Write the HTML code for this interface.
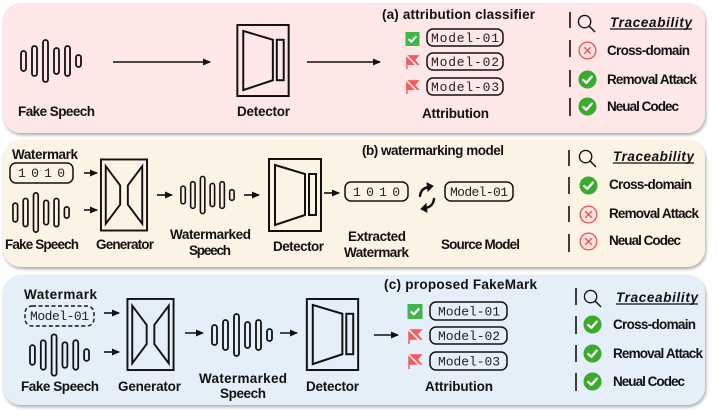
<!DOCTYPE html>
<html><head><meta charset="utf-8"><style>
html,body{margin:0;padding:0;background:#fff;}
svg{display:block;}
.t{font-family:"Liberation Sans",sans-serif;font-weight:bold;font-size:13.5px;fill:#111;}
.m{font-family:"Liberation Mono",monospace;font-size:13px;fill:#222;}
.ln{stroke:#111;stroke-width:1.6;fill:none;}
</style></head><body>
<svg width="718" height="410" viewBox="0 0 718 410" xmlns="http://www.w3.org/2000/svg">
<defs>
<filter id="sh" x="-5%" y="-10%" width="110%" height="125%"><feDropShadow dx="1" dy="2" stdDeviation="1.5" flood-color="#000" flood-opacity="0.35"/></filter>
<marker id="ar" markerWidth="8" markerHeight="8" refX="7" refY="4" orient="auto" markerUnits="userSpaceOnUse"><path d="M0,0.5 L8,4 L0,7.5 z" fill="#111"/></marker>
<symbol id="wave" viewBox="0 0 62 44">
<g fill="none" stroke="#111" stroke-width="1.8">
<rect x="1" y="12" width="5" height="20" rx="2.5"/>
<rect x="12" y="7" width="5" height="30" rx="2.5"/>
<rect x="23" y="1" width="5" height="42" rx="2.5"/>
<rect x="34" y="9" width="5" height="26" rx="2.5"/>
<rect x="45" y="7" width="5" height="30" rx="2.5"/>
<rect x="56" y="16" width="5" height="12" rx="2.5"/>
</g></symbol>
<symbol id="det" viewBox="0 0 54 74">
<g fill="none" stroke="#111" stroke-width="2">
<rect x="1" y="1" width="52" height="72"/>
<polygon points="7,7 37,16 37,57 7,67"/>
<rect x="41" y="16" width="7" height="41"/>
</g></symbol>
<symbol id="gen" viewBox="0 0 50 76">
<g fill="none" stroke="#111" stroke-width="2">
<rect x="1" y="1" width="48" height="74"/>
<polygon points="6,8 21,28 21,48 6,68"/>
<polygon points="44,8 29,28 29,48 44,68"/>
</g></symbol>
<symbol id="ok" viewBox="0 0 20 20"><circle cx="10" cy="10" r="9.5" fill="#3aab2e"/><path d="M5.5,10.5 L8.8,13.5 L14.5,7" fill="none" stroke="#fff" stroke-width="2.4" stroke-linecap="round" stroke-linejoin="round"/></symbol>
<symbol id="no" viewBox="0 0 20 20"><circle cx="10" cy="10" r="8.8" fill="#fde2e2" stroke="#e55555" stroke-width="1.4"/><path d="M7,7 L13,13 M13,7 L7,13" stroke="#e55555" stroke-width="1.5" stroke-linecap="round"/></symbol>
<symbol id="chk" viewBox="0 0 16 16"><rect width="16" height="16" fill="#3fb54a"/><path d="M3.5,8 L6.8,11 L12.5,4.8" fill="none" stroke="#fff" stroke-width="2.2"/></symbol>
<symbol id="flag" viewBox="0 0 16 16"><path d="M2,1 L2,16 M2,2 L14,2 L10,6.5 L14,11 L2,11" fill="#f25c5c" stroke="#f25c5c" stroke-width="1.5"/><path d="M1,1 L15,15" stroke="#fde7e7" stroke-width="1.8"/></symbol>
<symbol id="srch" viewBox="0 0 20 20"><circle cx="8" cy="8" r="6.5" fill="none" stroke="#111" stroke-width="1.4"/><path d="M12.7,12.7 L19,19" stroke="#111" stroke-width="1.5"/></symbol>
</defs>

<rect x="3" y="3" width="702" height="130" rx="18" fill="#fde7e7" filter="url(#sh)"/>
<rect x="3" y="140" width="702" height="127" rx="18" fill="#fbf4e5" filter="url(#sh)"/>
<rect x="3" y="275" width="702" height="130" rx="18" fill="#e5eff9" filter="url(#sh)"/>

<!-- Panel a -->
<use href="#wave" x="20" y="39" width="62" height="44"/>
<text class="t" x="18" y="116" textLength="77">Fake Speech</text>
<line class="ln" x1="113" y1="62" x2="210" y2="62" marker-end="url(#ar)"/>
<use href="#det" x="236" y="24" width="54" height="73"/>
<text class="t" x="237" y="116" textLength="53">Detector</text>
<line class="ln" x1="307" y1="62" x2="380" y2="62" marker-end="url(#ar)"/>
<text class="t" x="382" y="19" font-size="13.5" textLength="153">(a)  attribution classifier</text>
<use href="#chk" x="405" y="32" width="15" height="14"/>
<use href="#flag" x="405" y="54" width="15" height="15"/>
<use href="#flag" x="405" y="79" width="15" height="15"/>
<rect x="427" y="29" width="76" height="17" rx="6" fill="none" stroke="#111" stroke-width="1.5"/>
<rect x="427" y="53" width="76" height="17" rx="6" fill="none" stroke="#111" stroke-width="1.5"/>
<rect x="427" y="78" width="76" height="17" rx="6" fill="none" stroke="#111" stroke-width="1.5"/>
<text class="m" x="431" y="42" textLength="68">Model-01</text>
<text class="m" x="431" y="66" textLength="68">Model-02</text>
<text class="m" x="431" y="91" textLength="68">Model-03</text>
<text class="t" x="422" y="118" textLength="67">Attribution</text>

<g stroke="#111" stroke-width="1.6">
<line x1="570" y1="12" x2="570" y2="28"/><line x1="570" y1="40" x2="570" y2="57"/><line x1="570" y1="70" x2="570" y2="87"/><line x1="570" y1="98" x2="570" y2="116"/>
</g>
<use href="#srch" x="577" y="14" width="19" height="19"/>
<text class="t" x="610" y="27" font-style="italic" font-size="13.5" textLength="82">Traceability</text>
<line x1="610" y1="29" x2="692" y2="29" stroke="#111" stroke-width="1.2"/>
<use href="#no" x="578" y="41" width="19" height="19"/>
<use href="#ok" x="578" y="70" width="19" height="19"/>
<use href="#ok" x="578" y="97" width="19" height="19"/>
<text class="t" x="607" y="55" font-size="12.5" textLength="83">Cross-domain</text>
<text class="t" x="607" y="84" font-size="12.5" textLength="90">Removal Attack</text>
<text class="t" x="607" y="111" font-size="12.5" textLength="72">Neual Codec</text>

<!-- Panel b -->
<text class="t" x="12" y="159" textLength="66">Watermark</text>
<rect x="10" y="163" width="63" height="20" rx="6" fill="none" stroke="#111" stroke-width="1.5"/>
<text class="m" x="18" y="177" textLength="47">1 0 1 0</text>
<line class="ln" x1="84" y1="173" x2="97" y2="173" marker-end="url(#ar)"/>
<line class="ln" x1="84" y1="210" x2="97" y2="210" marker-end="url(#ar)"/>
<use href="#wave" x="12" y="190" width="58" height="45"/>
<text class="t" x="5" y="249" textLength="74">Fake Speech</text>
<use href="#gen" x="100" y="157" width="48" height="76"/>
<text class="t" x="96" y="249" textLength="58">Generator</text>
<line class="ln" x1="157" y1="195" x2="172" y2="195" marker-end="url(#ar)"/>
<use href="#wave" x="180" y="173" width="55" height="44"/>
<text class="t" x="170" y="239" textLength="81">Watermarked</text>
<text class="t" x="189" y="255" textLength="42">Speech</text>
<line class="ln" x1="244" y1="195" x2="259" y2="195" marker-end="url(#ar)"/>
<use href="#det" x="268" y="157" width="54" height="76"/>
<text class="t" x="273" y="251" textLength="51">Detector</text>
<line class="ln" x1="324" y1="193" x2="339" y2="193" marker-end="url(#ar)"/>
<rect x="345" y="182" width="63" height="19" rx="6" fill="none" stroke="#111" stroke-width="1.5"/>
<text class="m" x="353" y="196" textLength="47">1 0 1 0</text>
<text class="t" x="348" y="241" textLength="58">Extracted</text>
<text class="t" x="344" y="257" textLength="65">Watermark</text>
<g fill="#111" stroke="#111" stroke-width="2.4" stroke-linecap="round">
<path d="M420,196 Q421,188 429,187" fill="none"/><path d="M427,183 L433,186 L428,191 z" stroke-width="1"/>
<path d="M434,199 Q433,207 425,208" fill="none"/><path d="M427,212 L421,209 L426,204 z" stroke-width="1"/>
</g>
<rect x="445" y="182" width="68" height="19" rx="6" fill="none" stroke="#111" stroke-width="1.5"/>
<text class="m" x="450" y="196" textLength="58">Model-01</text>
<text class="t" x="441" y="249" textLength="79">Source Model</text>
<text class="t" x="362" y="155" font-size="13.5" textLength="142">(b)  watermarking model</text>

<g stroke="#111" stroke-width="1.6">
<line x1="569" y1="150" x2="569" y2="166"/><line x1="569" y1="177" x2="569" y2="194"/><line x1="569" y1="206" x2="569" y2="222"/><line x1="569" y1="234" x2="569" y2="252"/>
</g>
<use href="#srch" x="578" y="149" width="19" height="19"/>
<text class="t" x="613" y="161" font-style="italic" font-size="13.5" textLength="81">Traceability</text>
<line x1="613" y1="163" x2="694" y2="163" stroke="#111" stroke-width="1.2"/>
<use href="#ok" x="579" y="176" width="19" height="19"/>
<use href="#no" x="579" y="205" width="19" height="19"/>
<use href="#no" x="579" y="232" width="19" height="19"/>
<text class="t" x="609" y="189" font-size="12.5" textLength="83">Cross-domain</text>
<text class="t" x="609" y="218" font-size="12.5" textLength="90">Removal Attack</text>
<text class="t" x="609" y="245" font-size="12.5" textLength="72">Neual Codec</text>

<!-- Panel c -->
<text class="t" x="24" y="299" textLength="73">Watermark</text>
<rect x="25" y="306" width="69" height="20" rx="7" fill="none" stroke="#111" stroke-width="1.4" stroke-dasharray="4,2.5"/>
<text class="m" x="30" y="320" textLength="59">Model-01</text>
<line class="ln" x1="104" y1="313" x2="119" y2="313" marker-end="url(#ar)"/>
<line class="ln" x1="104" y1="352" x2="119" y2="352" marker-end="url(#ar)"/>
<use href="#wave" x="29" y="333" width="61" height="44"/>
<text class="t" x="21" y="391" textLength="78">Fake Speech</text>
<use href="#gen" x="123" y="298" width="55" height="73"/>
<text class="t" x="118" y="391" textLength="63">Generator</text>
<line class="ln" x1="185" y1="333" x2="203" y2="333" marker-end="url(#ar)"/>
<use href="#wave" x="211" y="313" width="62" height="44"/>
<text class="t" x="199" y="383" textLength="88">Watermarked</text>
<text class="t" x="220" y="398" textLength="46">Speech</text>
<line class="ln" x1="280" y1="333" x2="297" y2="333" marker-end="url(#ar)"/>
<use href="#det" x="305" y="298" width="55" height="73"/>
<text class="t" x="306" y="391" textLength="53">Detector</text>
<line class="ln" x1="374" y1="335" x2="398" y2="335" marker-end="url(#ar)"/>
<text class="t" x="384" y="289" font-size="13.5" textLength="153">(c)  proposed FakeMark</text>
<use href="#chk" x="407" y="304" width="16" height="15"/>
<use href="#flag" x="407" y="328" width="16" height="16"/>
<use href="#flag" x="407" y="353" width="16" height="16"/>
<rect x="430" y="302" width="77" height="18" rx="6" fill="none" stroke="#111" stroke-width="1.5"/>
<rect x="430" y="327" width="77" height="17" rx="6" fill="none" stroke="#111" stroke-width="1.5"/>
<rect x="430" y="352" width="77" height="18" rx="6" fill="none" stroke="#111" stroke-width="1.5"/>
<text class="m" x="438" y="315.5" textLength="62">Model-01</text>
<text class="m" x="438" y="340" textLength="62">Model-02</text>
<text class="m" x="438" y="365.5" textLength="62">Model-03</text>
<text class="t" x="425" y="391" textLength="68">Attribution</text>

<g stroke="#111" stroke-width="1.6">
<line x1="576" y1="288" x2="576" y2="305"/><line x1="576" y1="316" x2="576" y2="334"/><line x1="576" y1="345" x2="576" y2="362"/><line x1="576" y1="373" x2="576" y2="391"/>
</g>
<use href="#srch" x="583" y="289" width="19" height="19"/>
<text class="t" x="616" y="302" font-style="italic" font-size="13.5" textLength="82">Traceability</text>
<line x1="616" y1="304" x2="698" y2="304" stroke="#111" stroke-width="1.2"/>
<use href="#ok" x="583" y="315" width="19" height="19"/>
<use href="#ok" x="583" y="344" width="19" height="19"/>
<use href="#ok" x="583" y="372" width="19" height="19"/>
<text class="t" x="613" y="329" font-size="12.5" textLength="83">Cross-domain</text>
<text class="t" x="613" y="358" font-size="12.5" textLength="90">Removal Attack</text>
<text class="t" x="613" y="386" font-size="12.5" textLength="72">Neual Codec</text>
</svg>
</body></html>
